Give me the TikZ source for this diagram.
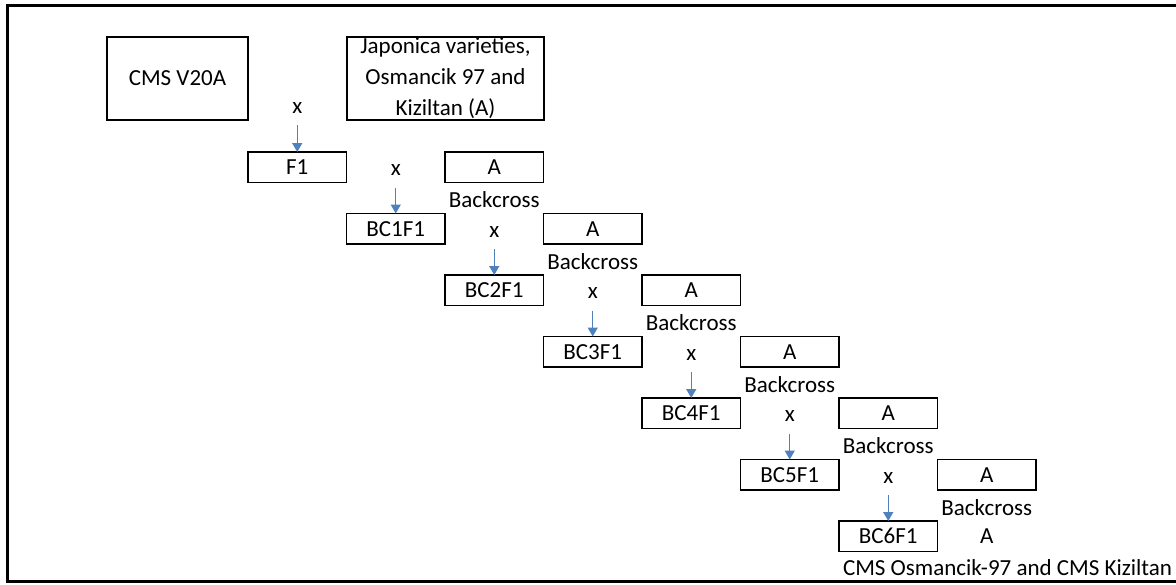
\documentclass[tikz,border=0pt]{standalone}
\usepackage{fontspec}
\setmainfont{Carlito}
\usetikzlibrary{positioning,arrows.meta}
\definecolor{arrowblue}{HTML}{4F81BD}

\begin{document}
\begin{tikzpicture}[
    x=1pt,
    y=-1pt,
    font=\fontsize{23}{31}\selectfont,
    node distance=31pt and 0pt,
    align=center
  ]

  \tikzstyle{parent} = [rectangle, draw, line width=1.4pt, inner sep=0pt, outer sep=0pt, minimum height=83pt]
  \tikzstyle{gen} = [rectangle, draw, line width=1.4pt, inner sep=0pt, outer sep=0pt, minimum width=98.5pt, minimum height=30.5pt]
  \tikzstyle{cross} = [inner sep=0pt, outer sep=0pt]
  \tikzstyle{line} = [draw, line width=1.4pt, arrowblue, shorten <=12pt, -{Triangle[length=9pt,width=10pt]}]

  \useasboundingbox (0,0) rectangle (1176,584);
  \draw[line width=3pt] (1190,5.5) -- (7,5.5) -- (7,581.5) -- (1190,581.5);

  \node [parent, minimum width=141pt] (cms) at (177.5,78.5) {CMS V20A};
  \node [parent, minimum width=197pt] (japonica) at (445.5,78.5) {Japonica varieties,\\Osmancik 97 and\\Kiziltan (A)};

  \node [gen, below right=32pt and 0pt of cms] (g0) {F1};
  \foreach \i [remember=\i as \p (initially 0)] in {1,...,6}
    \node [gen, below right=31pt and 0pt of g\p] (g\i) {BC\i F1};

  \node [cross, yshift=12pt] (xtop) at (g0.north |- cms.south) {x};
  \path [line] (xtop) -- (g0.north);

  \foreach \i [count=\j from 1] in {0,...,5} {
    \node [gen, right=98.5pt of g\i] (a\i) {A};
    \node [cross] (back\i) at ([yshift=-17.5pt]a\i.south) {Backcross};
    \node [cross, yshift=-3pt] (x\i) at (g\j.center |- g\i.center) {x};
    \path [line] (x\i) -- (g\j.north);
  }

  \node [cross] (a6) at (a5 |- g6) {A};
  \node [cross, anchor=west] (result) at ([xshift=4pt, yshift=-31.5pt]g6.west) {CMS Osmancik-97 and CMS Kiziltan};

\end{tikzpicture}
\end{document}
